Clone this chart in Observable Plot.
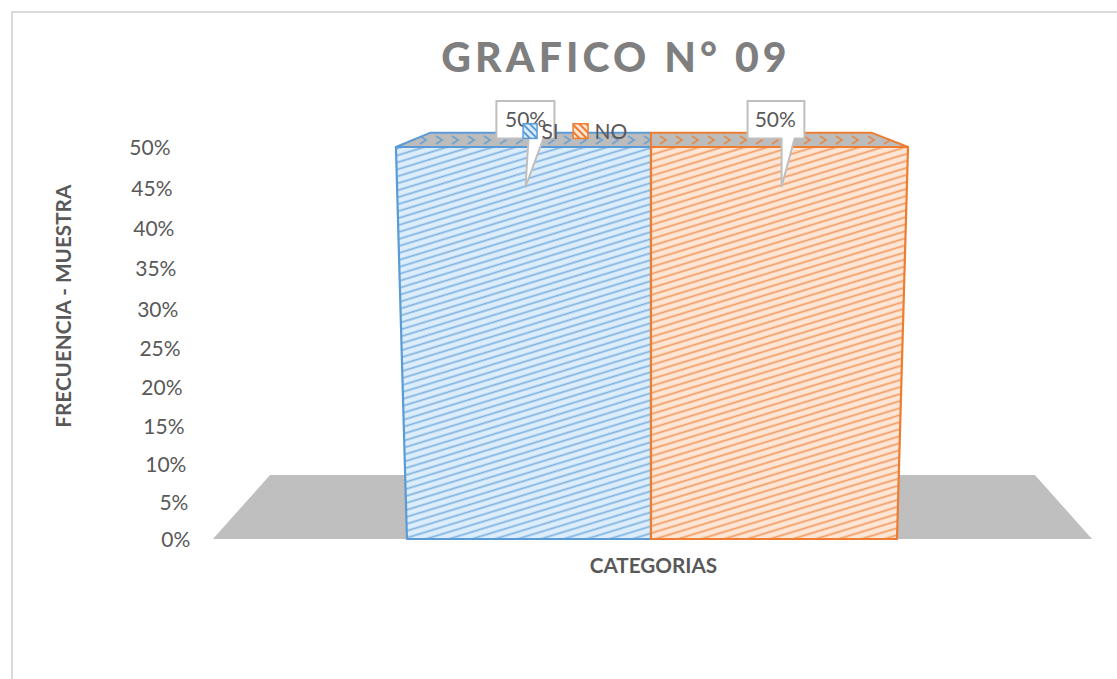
<!DOCTYPE html>
<html>
<head>
<meta charset="utf-8">
<script src="https://cdn.jsdelivr.net/npm/d3@7"></script>
<script src="https://cdn.jsdelivr.net/npm/@observablehq/plot@0.6"></script>
<style>
html,body{margin:0;padding:0;background:#fff;overflow:hidden;width:1117px;height:679px}
#frame{position:absolute;left:11px;top:11px;right:0;bottom:0;border-left:2px solid #d9d9d9;border-top:2px solid #d9d9d9}
#title{position:absolute;left:0;width:1232px;top:31px;text-align:center;font:900 41px Lato,sans-serif;letter-spacing:4.1px;color:#7f7f7f;white-space:pre;line-height:52px}
#chart{position:absolute;left:0;top:0}
#chart svg{display:block}
</style>
</head>
<body>
<div id="chart"></div>
<div id="frame"></div>
<div id="title">GRAFICO N° 09</div>
<script>
const categories = ["SI", "NO"];
const values = [50, 50];
const tickValues = [0, 5, 10, 15, 20, 25, 30, 35, 40, 45, 50];
const colors = {SI: "#5b9bd5", NO: "#ed7d31"};
const ink = "#595959";

// perspective of the 3-D axis: value scale breakpoints
const yDomain = [-18.8, ...tickValues, 55, 67.2];
const yRange = [680, 539, 502, 464, 426, 387, 348, 309, 268, 228, 188, 147, 104, 0];
// tick labels drift left as the axis recedes
const tickLabelX = [-1.882, -1.89, -1.898, -1.906, -1.914, -1.922, -1.931, -1.939, -1.947, -1.955, -1.963];

// 3-D geometry in chart units (one bar = 1 x unit, value % on y)
const backValue = 51.65;
const frontBase = {SI: [-0.996, 0], NO: [0, 1.004]};
const frontTop = {SI: [-1.041, 0], NO: [0, 1.049]};
const backTop = {SI: [-0.902, 0], NO: [0, 0.902]};
const floorRows = [
  {x1: -1.788, x2: 1.8, y: 0},
  {x1: -1.555, x2: 1.567, y: 8.55}
];
const calloutShape = {
  SI: [[-0.633, 55.4], [-0.396, 55.4], [-0.396, 51.05], [-0.441, 51.05], [-0.514, 45.24], [-0.502, 51.05], [-0.633, 51.05], [-0.633, 55.4]],
  NO: [[0.392, 55.4], [0.624, 55.4], [0.624, 51.05], [0.584, 51.05], [0.531, 45.24], [0.531, 51.05], [0.392, 51.05], [0.392, 55.4]]
};
const calloutText = {SI: [-0.514, 53.2], NO: [0.505, 53.2]};
const legendBox = {SI: [-0.522, -0.465], NO: [-0.318, -0.257]};
const legendLabelX = {SI: -0.449, NO: -0.233};
const legendY = [51.0, 52.7];
const legendTextY = 51.75;

const front = categories.flatMap((c, i) => [
  {c, x1: frontBase[c][0], x2: frontBase[c][1], y: 0},
  {c, x1: frontTop[c][0], x2: frontTop[c][1], y: values[i]}
]);
const top3d = categories.flatMap((c, i) => [
  {c, x1: frontTop[c][0], x2: frontTop[c][1], y: values[i]},
  {c, x1: backTop[c][0], x2: backTop[c][1], y: backValue}
]);

const ns = "http://www.w3.org/2000/svg";
function defs() {
  const g = document.createElementNS(ns, "defs");
  const pats = categories.map(c => {
    const col = colors[c];
    const bg = c === "SI" ? "#dcedfb" : "#fee6d6";
    return `
    <pattern id="front${c}" patternUnits="userSpaceOnUse" width="16" height="6.7" patternTransform="rotate(-17)">
      <rect width="16" height="6.7" fill="${bg}"/>
      <rect y="2.6" width="16" height="1.7" fill="${col}" fill-opacity=".72"/>
    </pattern>
    <pattern id="top${c}" patternUnits="userSpaceOnUse" width="16" height="14" y="133">
      <rect width="16" height="14" fill="#bcbcbc"/>
      <path d="M4 3L10 7L4 11" fill="none" stroke="${col}" stroke-width="2" stroke-opacity=".75"/>
    </pattern>
    <pattern id="key${c}" patternUnits="userSpaceOnUse" width="5" height="5" patternTransform="rotate(45)">
      <rect width="5" height="5" fill="${bg}"/>
      <rect y="2" width="5" height="2" fill="${col}"/>
    </pattern>`;
  }).join("");
  g.innerHTML = pats;
  return g;
}

const callouts = categories.flatMap(c => calloutShape[c].map(([x, y]) => ({c, x, y})));
const chart = Plot.plot({
  width: 1117,
  height: 679,
  margin: 0,
  style: {background: "transparent", fontFamily: "Lato, sans-serif", fontSize: "21px"},
  x: {type: "linear", domain: [-2.657, 1.902], range: [0, 1117], axis: null},
  y: {type: "linear", domain: yDomain, range: yRange, axis: null, nice: false, zero: false},
  color: {type: "identity"},
  marks: [
    defs,
    Plot.area(floorRows, {x1: "x1", x2: "x2", y1: "y", y2: "y", fill: "#bfbfbf", curve: "linear"}),
    ...categories.map(c => Plot.area(top3d.filter(d => d.c === c), {
      x1: "x1", x2: "x2", y1: "y", y2: "y", fill: `url(#top${c})`, stroke: colors[c], strokeWidth: 2
    })),
    ...categories.map(c => Plot.area(front.filter(d => d.c === c), {
      x1: "x1", x2: "x2", y1: "y", y2: "y", fill: `url(#front${c})`, stroke: colors[c], strokeWidth: 2.2
    })),
    Plot.text(tickValues, {
      x: (d, i) => tickLabelX[i], y: d => d, text: d => d + "%",
      textAnchor: "end", fontSize: 21, fill: ink, dy: 1
    }),
    Plot.text(["FRECUENCIA - MUESTRA"], {
      x: [-2.396], y: [30.4], text: d => d, rotate: -90, fontSize: 20.7, fontWeight: 700, fill: ink
    }),
    Plot.text(["CATEGORIAS"], {
      x: [0.008], y: [-3.6], text: d => d, fontSize: 20.7, fontWeight: 700, fill: ink
    }),
    ...categories.map(c => Plot.line(callouts.filter(d => d.c === c), {
      x: "x", y: "y", fill: "#fff", stroke: "#bfbfbf", strokeWidth: 2, curve: "linear"
    })),
    Plot.text(categories, {
      x: c => calloutText[c][0], y: c => calloutText[c][1],
      text: (c, i) => values[i] + "%", fontSize: 21, fill: ink
    }),
    Plot.rect(categories, {
      x1: c => legendBox[c][0], x2: c => legendBox[c][1],
      y1: () => legendY[0], y2: () => legendY[1],
      fill: c => `url(#key${c})`, stroke: c => colors[c], strokeWidth: 1.5
    }),
    Plot.text(categories, {
      x: c => legendLabelX[c], y: () => legendTextY, text: d => d,
      textAnchor: "start", fontSize: 21, fill: ink
    })
  ]
});
document.getElementById("chart").appendChild(chart);
</script>
</body>
</html>
